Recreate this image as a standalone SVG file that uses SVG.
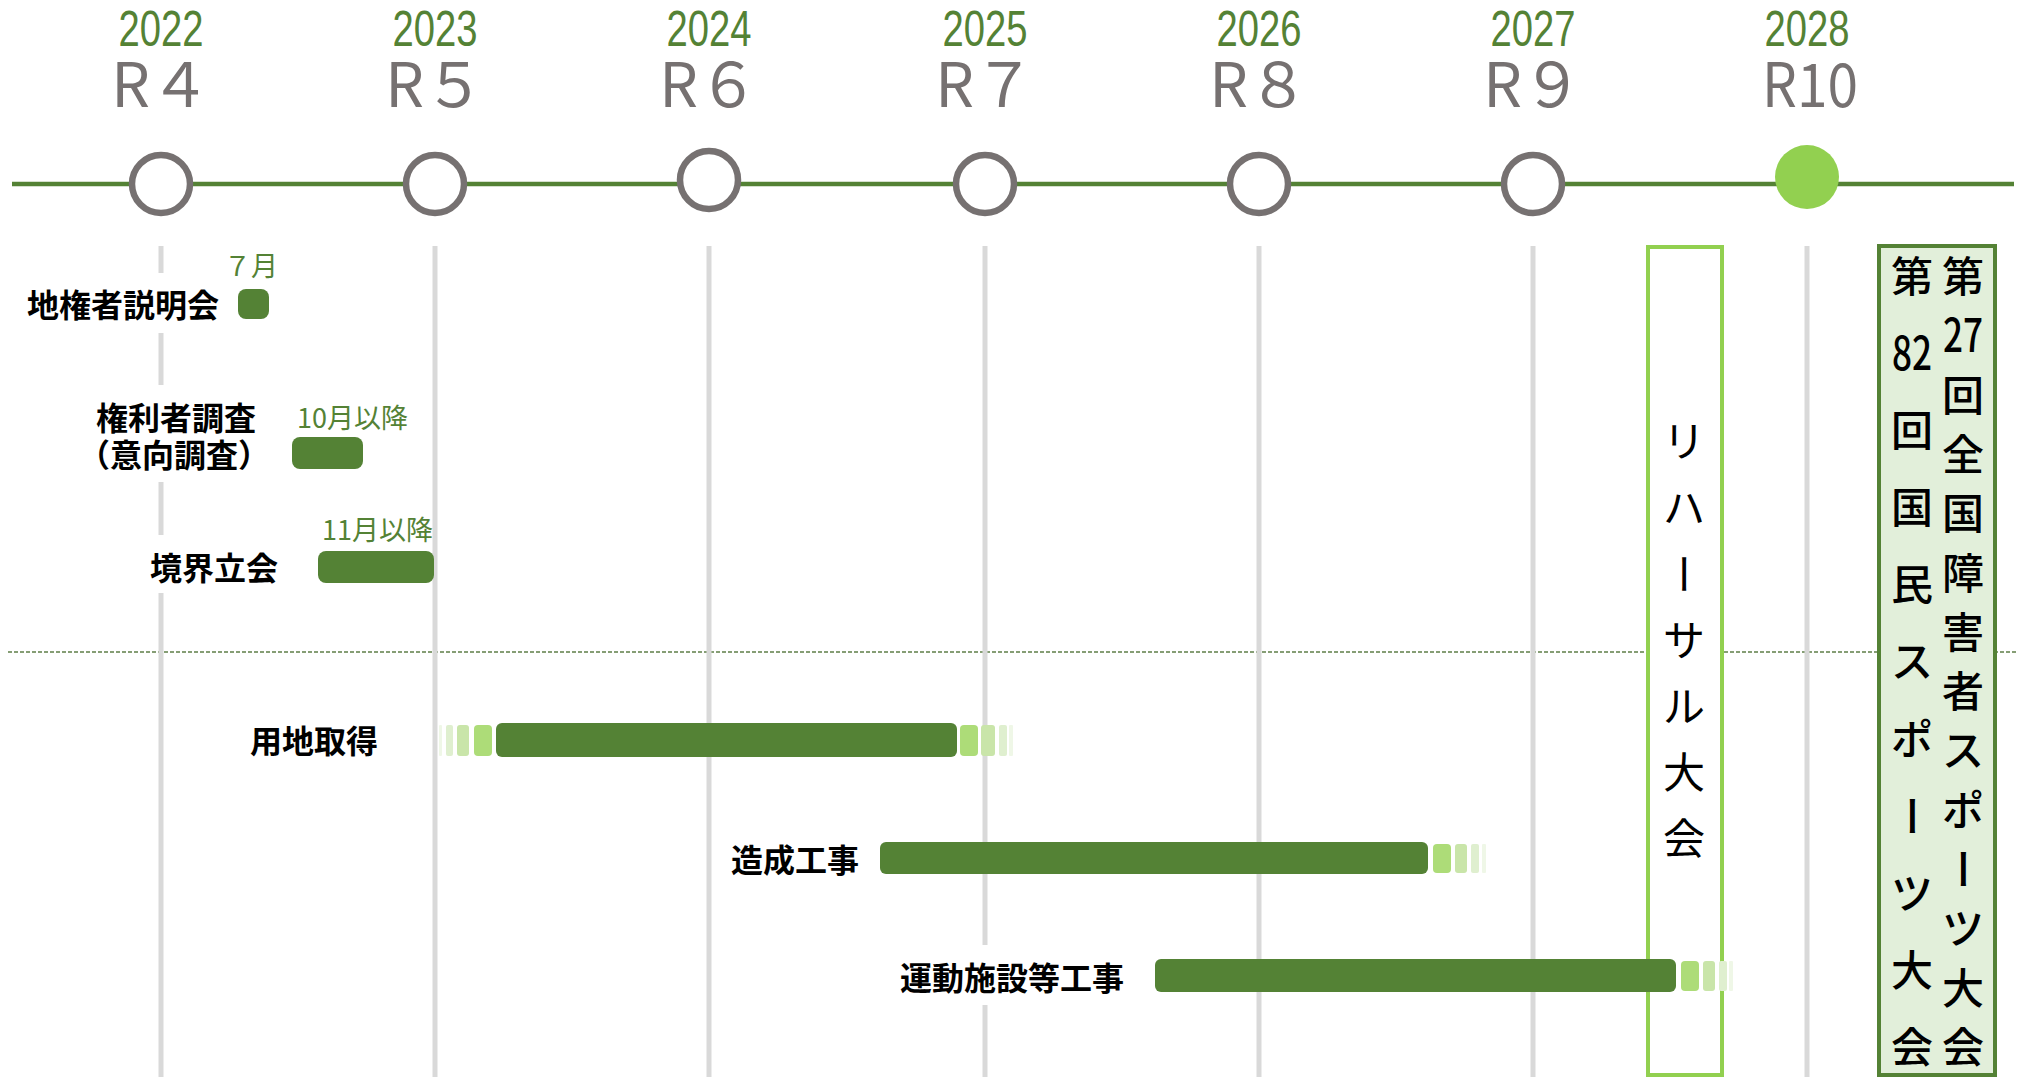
<svg xmlns="http://www.w3.org/2000/svg" width="2018" height="1077" viewBox="0 0 2018 1077">
<style>
.yr{font-family:"Liberation Sans",Arial,sans-serif;font-size:50px;fill:#548235;text-anchor:middle}
.rn{font-family:"Noto Sans CJK JP","Noto Sans",sans-serif;font-size:61px;fill:#767171;text-anchor:middle}
.ring{fill:#fff;stroke:#767171;stroke-width:6.5}
.grid{stroke:#D9D9D9;stroke-width:5}
.bg{fill:#fff}
.lbl{font-family:"Noto Sans CJK JP","Noto Sans CJK SC",sans-serif;font-size:32px;font-weight:700;fill:#000;text-anchor:end}
.note{font-family:"Noto Sans CJK JP","Noto Sans",sans-serif;font-size:27px;fill:#548235}
.bar{fill:#548235}
.f1{fill:#ADDC78}.f2{fill:#C9E5A9}.f3{fill:#DFEFCF}.f4{fill:#EFF7E7}
.vt{font-family:"Noto Sans CJK JP","Noto Sans CJK SC",sans-serif;font-size:42px;fill:#000}
</style>
<rect width="2018" height="1077" fill="#fff"/>
<g id="connectors">
  <line x1="8" y1="652" x2="2018" y2="652" stroke="#5f7f48" stroke-width="1.4" stroke-dasharray="4 2"/>
  <line class="grid" x1="161" y1="246" x2="161" y2="1077"/>
  <line class="grid" x1="435" y1="246" x2="435" y2="1077"/>
  <line class="grid" x1="709" y1="246" x2="709" y2="1077"/>
  <line class="grid" x1="985" y1="246" x2="985" y2="1077"/>
  <line class="grid" x1="1259" y1="246" x2="1259" y2="1077"/>
  <line class="grid" x1="1533" y1="246" x2="1533" y2="1077"/>
  <line class="grid" x1="1807" y1="246" x2="1807" y2="1077"/>
  <line x1="12" y1="184" x2="2014" y2="184" stroke="#548235" stroke-width="4.5"/>
</g>
<g id="years">
  <g id="y2022"><text class="yr" x="161" y="46" textLength="85" lengthAdjust="spacingAndGlyphs">2022</text><text class="rn" x="161" y="107">R４</text><circle class="ring" cx="161" cy="184" r="29"/></g>
  <g id="y2023"><text class="yr" x="435" y="46" textLength="85" lengthAdjust="spacingAndGlyphs">2023</text><text class="rn" x="435" y="107">R５</text><circle class="ring" cx="435" cy="184" r="29"/></g>
  <g id="y2024"><text class="yr" x="709" y="46" textLength="85" lengthAdjust="spacingAndGlyphs">2024</text><text class="rn" x="709" y="107">R６</text><circle class="ring" cx="709" cy="180" r="29"/></g>
  <g id="y2025"><text class="yr" x="985" y="46" textLength="85" lengthAdjust="spacingAndGlyphs">2025</text><text class="rn" x="985" y="107">R７</text><circle class="ring" cx="985" cy="184" r="29"/></g>
  <g id="y2026"><text class="yr" x="1259" y="46" textLength="85" lengthAdjust="spacingAndGlyphs">2026</text><text class="rn" x="1259" y="107">R８</text><circle class="ring" cx="1259" cy="184" r="29"/></g>
  <g id="y2027"><text class="yr" x="1533" y="46" textLength="85" lengthAdjust="spacingAndGlyphs">2027</text><text class="rn" x="1533" y="107">R９</text><circle class="ring" cx="1533" cy="184" r="29"/></g>
  <g id="y2028"><text class="yr" x="1807" y="46" textLength="85" lengthAdjust="spacingAndGlyphs">2028</text><text class="rn" x="1810" y="107" textLength="96" lengthAdjust="spacingAndGlyphs">R10</text><circle cx="1807" cy="177" r="32" fill="#92D050"/></g>
</g>
<g id="rehearsal">
  <rect x="1648" y="247" width="74" height="828" fill="#fff" stroke="#92D050" stroke-width="4"/>
  <text class="vt"><tspan x="1663" y="457">リ</tspan><tspan x="1663" y="523">ハ</tspan><tspan x="1668" y="553" rotate="90">ー</tspan><tspan x="1663" y="656">サ</tspan><tspan x="1663" y="722">ル</tspan><tspan x="1663" y="788">大</tspan><tspan x="1663" y="854">会</tspan></text>
</g>
<g id="games">
  <rect x="1879" y="246" width="116" height="829" fill="#E2EFDA" stroke="#548235" stroke-width="4"/>
  <text class="vt" font-weight="500"><tspan x="1942" y="292">第</tspan><tspan x="1943" y="352" font-size="46" textLength="40" lengthAdjust="spacingAndGlyphs">27</tspan><tspan x="1942" y="411">回</tspan><tspan x="1942" y="470">全</tspan><tspan x="1942" y="529">国</tspan><tspan x="1942" y="589">障</tspan><tspan x="1942" y="648">害</tspan><tspan x="1942" y="707">者</tspan><tspan x="1942" y="766">ス</tspan><tspan x="1942" y="826">ポ</tspan><tspan x="1947" y="848" rotate="90">ー</tspan><tspan x="1942" y="944">ツ</tspan><tspan x="1942" y="1004">大</tspan><tspan x="1942" y="1063">会</tspan></text>
  <text class="vt" font-weight="500"><tspan x="1891" y="292">第</tspan><tspan x="1892" y="370" font-size="46" textLength="40" lengthAdjust="spacingAndGlyphs">82</tspan><tspan x="1891" y="446">回</tspan><tspan x="1891" y="523">国</tspan><tspan x="1891" y="600">民</tspan><tspan x="1891" y="677">ス</tspan><tspan x="1891" y="755">ポ</tspan><tspan x="1896" y="795" rotate="90">ー</tspan><tspan x="1891" y="909">ツ</tspan><tspan x="1891" y="986">大</tspan><tspan x="1891" y="1063">会</tspan></text>
</g>
<g id="task1">
  <rect class="bg" x="20" y="273" width="205" height="60"/>
  <text class="lbl" x="219" y="317">地権者説明会</text>
  <text class="note" x="224" y="276">７月</text>
  <rect class="bar" x="238" y="289" width="31" height="30" rx="8"/>
</g>
<g id="task2">
  <rect class="bg" x="70" y="385" width="215" height="97"/>
  <text class="lbl" x="176" y="430" text-anchor="middle" style="text-anchor:middle">権利者調査</text>
  <text class="lbl" x="174" y="467" style="text-anchor:middle">（意向調査）</text>
  <text class="note" x="297" y="428">10月以降</text>
  <rect class="bar" x="292" y="437" width="71" height="32" rx="8"/>
</g>
<g id="task3">
  <rect class="bg" x="145" y="535" width="140" height="58"/>
  <text class="lbl" x="278" y="580">境界立会</text>
  <text class="note" x="322" y="540">11月以降</text>
  <rect class="bar" x="318" y="551" width="116" height="32" rx="8"/>
</g>
<g id="task4">
  <text class="lbl" x="378" y="753">用地取得</text>
  <rect class="f4" x="439" y="725" width="3" height="31" rx="1"/>
  <rect class="f3" x="446" y="725" width="7" height="31" rx="2"/>
  <rect class="f2" x="457" y="725" width="12" height="31" rx="3"/>
  <rect class="f1" x="474" y="725" width="18" height="31" rx="4"/>
  <rect class="bar" x="496" y="723" width="461" height="34" rx="6"/>
  <rect class="f1" x="960" y="725" width="18" height="31" rx="4"/>
  <rect class="f2" x="981" y="725" width="14" height="31" rx="3"/>
  <rect class="f3" x="999" y="725" width="8" height="31" rx="2"/>
  <rect class="f4" x="1009" y="725" width="4" height="31" rx="1"/>
</g>
<g id="task5">
  <text class="lbl" x="859" y="872">造成工事</text>
  <rect class="bar" x="880" y="842" width="548" height="32" rx="6"/>
  <rect class="f1" x="1433" y="844" width="18" height="29" rx="4"/>
  <rect class="f2" x="1455" y="844" width="12" height="29" rx="3"/>
  <rect class="f3" x="1471" y="844" width="8" height="29" rx="2"/>
  <rect class="f4" x="1482" y="844" width="4" height="29" rx="1"/>
</g>
<g id="task6">
  <rect class="bg" x="893" y="945" width="238" height="60"/>
  <text class="lbl" x="1124" y="990">運動施設等工事</text>
  <rect class="bar" x="1155" y="959" width="521" height="33" rx="6"/>
  <rect class="f1" x="1681" y="961" width="18" height="30" rx="4"/>
  <rect class="f2" x="1703" y="961" width="12" height="30" rx="3"/>
  <rect class="f3" x="1719" y="961" width="8" height="30" rx="2"/>
  <rect class="f4" x="1729" y="961" width="4" height="30" rx="1"/>
</g>
</svg>
